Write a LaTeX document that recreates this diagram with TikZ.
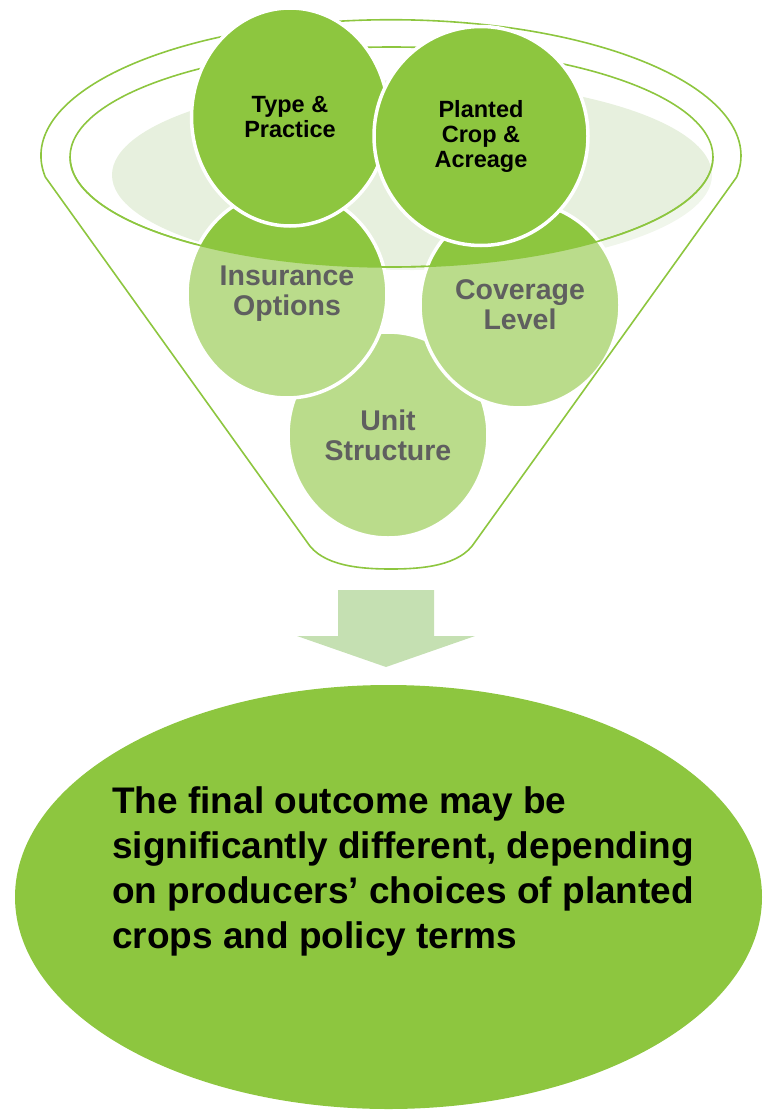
\documentclass[tikz,border=0pt]{standalone}
\usepackage{fontspec}
\setmainfont{Liberation Sans}
\usepackage{xcolor}
\usetikzlibrary{shapes.geometric}
\definecolor{leafgreen}{HTML}{8DC63F}
\definecolor{palegreen}{HTML}{E7F0DE}
\definecolor{arrowgreen}{HTML}{C5E0B2}
\definecolor{labelgray}{HTML}{5F5F5F}

\begin{document}
\begin{tikzpicture}[x=1pt, y=-1pt,
    rim/.style={draw=leafgreen, line width=1.6pt},
    bubble/.style={ellipse, draw=white, line width=3.5pt, fill=leafgreen, inner sep=0pt},
    toplabel/.style={font=\bfseries\fontsize{23.5}{25}\selectfont, align=center, text=black},
    lowlabel/.style={font=\bfseries\fontsize{28.5}{30}\selectfont, align=center, text=labelgray},
    mist/.style={fill=white, fill opacity=0.4}
  ]
  \useasboundingbox (0,0) rectangle (764,1111);

  \coordinate (rimL)  at (45.3,177);
  \coordinate (rimR)  at (736.7,177);
  \coordinate (footL) at (307,542);
  \coordinate (footR) at (475,542);
  \coordinate (lipL)  at (70,157);

  % glow in the mouth of the funnel
  \fill[palegreen] (412,175) ellipse [x radius=300, y radius=95];

  % rim and lip, behind the bubbles
  \draw[rim] (rimL) arc[start angle=171, end angle=369, x radius=350, y radius=136];
  \draw[rim] (391.5,157) ellipse [x radius=321.5, y radius=110];

  % bubbles, back to front
  \node[bubble, minimum width=200pt, minimum height=206pt] (unit) at (388,435) {};
  \node[bubble, minimum width=200pt, minimum height=208pt] (ins)  at (287,294) {};
  \node[bubble, minimum width=200pt, minimum height=206pt] (cov)  at (520,305) {};
  \node[bubble, minimum width=197pt, minimum height=218pt] (type) at (290,117) {};
  \node[bubble, minimum width=214pt, minimum height=219pt] (crop) at (481,136) {};
  \node[toplabel] at (type) {Type \&\\Practice};
  \node[toplabel] at (crop) {Planted\\Crop \&\\Acreage};

  % body of the funnel washes out what lies below the lip
  \fill[mist] (lipL) arc[start angle=180, end angle=0, x radius=321.5, y radius=110]
    -- (rimR) -- (footR) .. controls (460,566) and (422,569) .. (391,569)
    .. controls (360,569) and (322,566) .. (footL) -- (rimL) -- cycle;
  \draw[rim] (lipL) arc[start angle=180, end angle=0, x radius=321.5, y radius=110];
  \draw[rim] (rimL) -- (footL) .. controls (322,566) and (360,569) .. (391,569)
    .. controls (422,569) and (460,566) .. (footR) -- (rimR);

  \node[lowlabel] at (ins)  {Insurance\\Options};
  \node[lowlabel] at (cov)  {Coverage\\Level};
  \node[lowlabel] at (unit) {Unit\\Structure};

  % block arrow down to the result
  \fill[arrowgreen] (338,590) -- (434,590) -- (434,636) -- (475,636) -- (386,667)
    -- (297,636) -- (338,636) -- cycle;

  \node[ellipse, fill=leafgreen, inner sep=0pt, minimum width=747pt, minimum height=424pt] (outcome) at (388.5,897) {};
  \node[anchor=north west, inner sep=0pt, align=left, font=\bfseries\fontsize{37}{45}\selectfont] (verdict) at (112,786)
    {The final outcome may be\\significantly different, depending\\on producers’ choices of planted\\crops and policy terms};
\end{tikzpicture}
\end{document}
